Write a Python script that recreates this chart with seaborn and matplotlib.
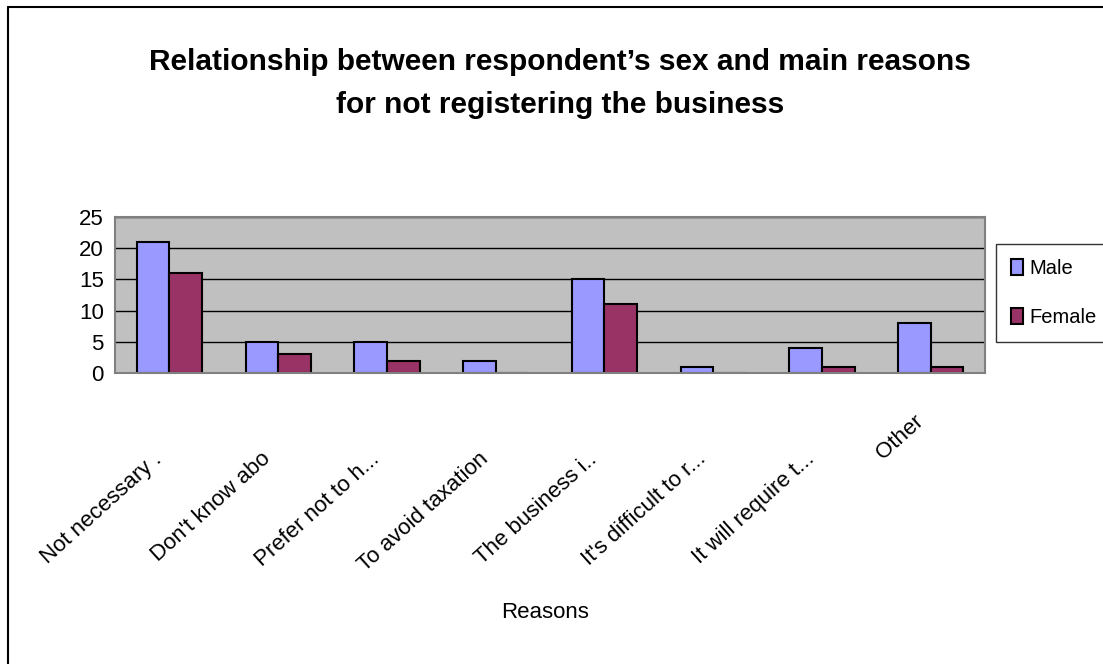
import matplotlib
matplotlib.use("Agg")
import matplotlib.pyplot as plt
import matplotlib.transforms as mtransforms
import pandas as pd
import seaborn as sns
from matplotlib.lines import Line2D

reasons = ["Not necessary .", "Don't know abo", "Prefer not to h...", "To avoid taxation",
           "The business i..", "It's difficult to r...", "It will require t...", "Other"]
male = [21, 5, 5, 2, 15, 1, 4, 8]
female = [16, 3, 2, 0, 11, 0, 1, 1]
yticks = [0, 5, 10, 15, 20, 25]

df = pd.DataFrame({"reason": reasons * 2,
                   "count": male + female,
                   "sex": ["Male"] * len(reasons) + ["Female"] * len(reasons)})

sns.set_style("white")
plt.rcParams['font.family'] = ['Liberation Sans', 'DejaVu Sans']
for k in ["text.color", "axes.labelcolor", "xtick.color", "ytick.color"]:
    plt.rcParams[k] = "black"

fig = plt.figure(figsize=(11.03, 6.64), dpi=100)
ax = fig.add_axes([115 / 1103, 1 - 373 / 664, 870 / 1103, 156 / 664])
ax.set_facecolor("#C0C0C0")

sns.barplot(data=df, x="reason", y="count", hue="sex", order=reasons,
            hue_order=["Male", "Female"], palette=["#9999FF", "#993366"], saturation=1,
            width=0.6, edgecolor="black", linewidth=1.5, ax=ax, legend=False)

ax.set_xlim(-0.5, len(reasons) - 0.5)
ax.set_ylim(0, 25)
ax.set_yticks(yticks)
ax.set_yticklabels([str(t) for t in yticks], fontsize=16)
ax.yaxis.grid(True, color="black", linewidth=1)
ax.set_axisbelow(True)
for s in ax.spines.values():
    s.set_color("#808080")
    s.set_linewidth(1.5)

ax.set_xticks(range(len(reasons)))
ax.set_xticklabels(reasons, rotation=42, ha="right", va="center", rotation_mode="anchor", fontsize=16)
ax.tick_params(axis="x", which="major", length=0, pad=60)
ax.set_xticks([i - 0.5 for i in range(len(reasons) + 1)], minor=True)
ax.tick_params(axis="x", which="minor", length=6, width=1, color="black", direction="out")
ax.tick_params(axis="y", length=6, width=1, color="black", direction="out", pad=2)

labels = ax.get_xticklabels()
for i, lbl in enumerate(labels):
    dy = 0.38 if i == len(labels) - 1 else 0  # short label sits higher in the original
    lbl.set_transform(lbl.get_transform() + mtransforms.ScaledTranslation(-0.1, dy, fig.dpi_scale_trans))

ax.set_xlabel("Reasons", fontsize=16)
ax.xaxis.set_label_coords(0.494, -1.47)
ax.set_ylabel("")

fig.text(0.508, 1 - 62 / 664, "Relationship between respondent\u2019s sex and main reasons",
         ha="center", va="center", fontsize=21.5, fontweight="bold")
fig.text(0.508, 1 - 105 / 664, "for not registering the business",
         ha="center", va="center", fontsize=21.5, fontweight="bold")

handles = [plt.Rectangle((0, 0), 1, 1, facecolor="#9999FF", edgecolor="black", linewidth=1.5),
           plt.Rectangle((0, 0), 1, 1, facecolor="#993366", edgecolor="black", linewidth=1.5)]
leg = fig.legend(handles, ["Male", "Female"], loc="center", bbox_to_anchor=(1054 / 1103, 1 - 293 / 664),
                 fontsize=14.5, frameon=True, fancybox=False, edgecolor="black",
                 handlelength=0.6, handleheight=0.8, handletextpad=0.3, labelspacing=1.5,
                 borderpad=0.75, borderaxespad=0)
leg.get_frame().set_linewidth(1)

fig.add_artist(Line2D([8 / 1103, 8 / 1103], [0, 1 - 7 / 664], color="black", linewidth=1.5))
fig.add_artist(Line2D([8 / 1103, 1], [1 - 7 / 664, 1 - 7 / 664], color="black", linewidth=1.5))

fig.savefig("out.png", dpi=100)
